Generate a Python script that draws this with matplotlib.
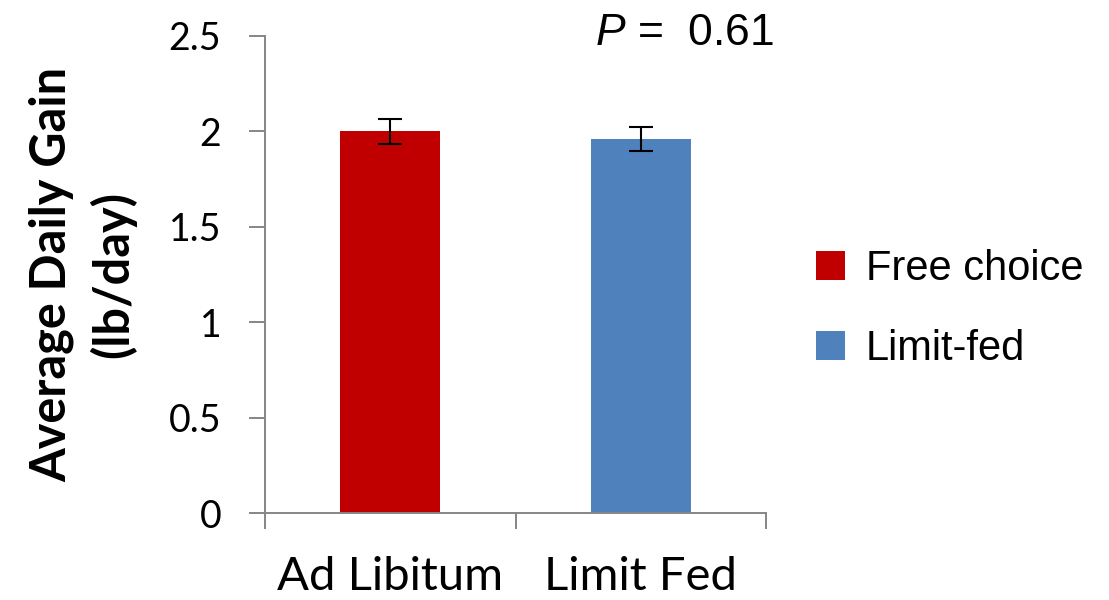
import numpy as np
import matplotlib.pyplot as plt

categories = ["Ad Libitum", "Limit Fed"]
series = ["Free choice", "Limit-fed"]
values = [2.00, 1.96]
errors = [0.065, 0.065]
colors = ["#C00000", "#4F81BD"]
y_ticks = [0, 0.5, 1, 1.5, 2, 2.5]
y_tick_labels = ["0", "0.5", "1", "1.5", "2", "2.5"]
p_text = r"$P$ =  0.61"

plt.rcParams["font.family"] = ["Liberation Sans", "DejaVu Sans"]
plt.rcParams["mathtext.fontset"] = "custom"
plt.rcParams["mathtext.rm"] = "Liberation Sans"
plt.rcParams["mathtext.it"] = "Liberation Sans:italic"

W, H = 1109, 600
fig = plt.figure(figsize=(W / 100, H / 100), dpi=100)
ax = fig.add_axes([265 / W, 1 - 513 / H, (766 - 265) / W, (513 - 36) / H])

axis_col = "#868686"
x = np.arange(len(categories))
handles = []
for i in range(len(categories)):
    b = ax.bar(x[i], values[i], width=0.4, color=colors[i], label=series[i], zorder=2)
    handles.append(b)
    ax.errorbar(x[i], values[i], yerr=errors[i], fmt="none", ecolor="black",
                elinewidth=1.5, capsize=8.5, capthick=1.5, zorder=3)

ax.set_xlim(-0.5, 1.5)
ax.set_ylim(0, 2.5)

for s in ["top", "right"]:
    ax.spines[s].set_visible(False)
for s in ["left", "bottom"]:
    ax.spines[s].set_color(axis_col)
    ax.spines[s].set_linewidth(1.4)

ax.set_yticks(y_ticks)
ax.set_yticklabels(y_tick_labels, fontfamily="Lato", fontsize=27)
ax.tick_params(axis="y", length=11.5, width=1.4, color=axis_col, pad=20, labelcolor="black")

ax.set_xticks(x)
ax.set_xticklabels(categories, fontfamily="Lato", fontsize=34)
ax.set_xticks([-0.5, 0.5, 1.5], minor=True)
ax.tick_params(axis="x", which="major", length=0, pad=31)
ax.tick_params(axis="x", which="minor", length=11.5, width=1.4, color=axis_col)

ax.set_ylabel("Average Daily Gain\n(lb/day)", fontfamily="Lato", fontweight="bold",
              fontsize=35, linespacing=1.38)
ax.yaxis.set_label_coords(-(265 - 136) / (766 - 265), 0.5)

fig.legend(handles=handles, labels=series, loc="center left",
           bbox_to_anchor=(816 / W, 1 - 309 / H), frameon=False,
           handlelength=0.7, handleheight=0.7, handletextpad=0.5,
           labelspacing=0.95, borderpad=0, borderaxespad=0, prop={"size": 30})

fig.text(595 / W, 1 - 45 / H, p_text, fontsize=32, va="baseline", ha="left")

fig.savefig("out.png", dpi=100)
